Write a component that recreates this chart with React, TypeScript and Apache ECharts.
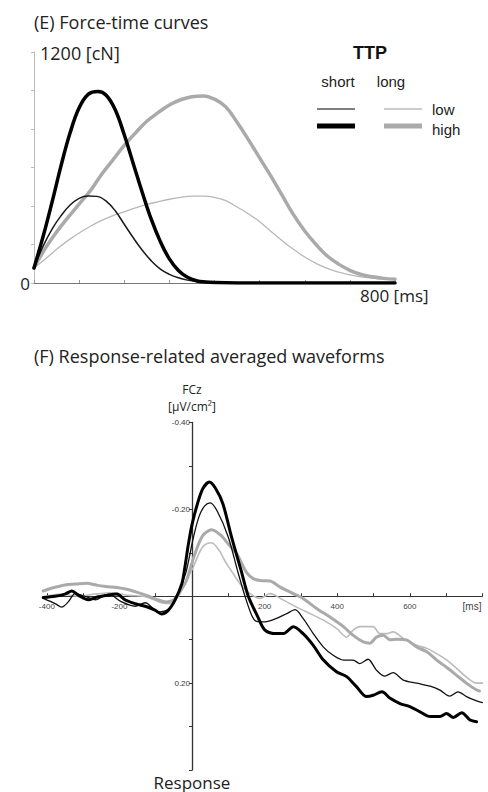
import React, { useEffect, useRef } from "react";
import * as echarts from "echarts";

// (E) Force-time curves: [time ms, force cN]
const forceShortLow: [number, number][] = [
  [0, 78], [20, 190], [40, 280], [60, 350], [80, 405], [100, 440], [120, 452], [140, 450],
  [160, 425], [180, 375], [200, 305], [220, 235], [240, 170], [260, 115], [280, 72], [300, 45],
  [320, 27], [340, 15], [360, 8], [400, 2], [450, 0], [800, 0],
];
const forceShortHigh: [number, number][] = [
  [0, 78], [20, 240], [40, 420], [60, 610], [80, 780], [100, 910], [120, 980], [142, 995],
  [160, 975], [180, 900], [200, 770], [220, 620], [240, 470], [260, 330], [280, 215], [300, 125],
  [320, 65], [340, 30], [360, 12], [380, 5], [400, 2], [450, 0], [800, 0],
];
const forceLongLow: [number, number][] = [
  [0, 78], [25, 125], [50, 175], [75, 220], [100, 260], [125, 295], [150, 325], [175, 350],
  [200, 370], [225, 390], [250, 408], [275, 422], [300, 435], [325, 445], [350, 451], [375, 451],
  [400, 445], [425, 428], [450, 395], [475, 360], [500, 318], [525, 268], [550, 220], [575, 175],
  [600, 135], [625, 102], [650, 76], [675, 56], [700, 42], [725, 32], [750, 25], [775, 21], [800, 19],
];
const forceLongHigh: [number, number][] = [
  [0, 78], [25, 180], [50, 265], [75, 340], [100, 410], [125, 480], [150, 565], [175, 640],
  [200, 715], [225, 780], [250, 840], [275, 885], [300, 925], [325, 952], [350, 968], [375, 972],
  [400, 955], [425, 915], [450, 835], [475, 745], [500, 650], [525, 555], [550, 455], [575, 355],
  [600, 270], [625, 200], [650, 140], [675, 98], [700, 66], [725, 44], [750, 32], [775, 24], [800, 20],
];

// (F) Response-related averaged waveforms: [time ms, µV/cm²]
const ercShortLow: [number, number][] = [
  [-410, 0.005], [-377, 0.017], [-359, 0.025], [-341, 0.013], [-322, -0.006], [-295, 0], [-267, 0.008],
  [-230, -0.005], [-194, 0.013], [-157, 0.023], [-129, 0.015], [-93, 0.036], [-65, 0.03], [-42, 0.002],
  [-24, -0.037], [-15, -0.06], [4, -0.136], [20, -0.185], [35, -0.208], [50, -0.215], [70, -0.195],
  [100, -0.136], [125, -0.06], [146, 0], [165, 0.045], [178, 0.058], [201, 0.059], [233, 0.051],
  [261, 0.04], [284, 0.031], [306, 0.051], [334, 0.086], [362, 0.117], [389, 0.136], [417, 0.147],
  [444, 0.147], [462, 0.155], [485, 0.145], [508, 0.17], [531, 0.184], [554, 0.176], [582, 0.193],
  [619, 0.2], [656, 0.207], [683, 0.216], [710, 0.23], [733, 0.22], [756, 0.231], [784, 0.241], [800, 0.245],
];
const ercShortHigh: [number, number][] = [
  [-410, 0.003], [-377, 0], [-350, -0.005], [-331, -0.012], [-313, -0.002], [-286, 0.008], [-263, 0.002],
  [-235, -0.002], [-207, -0.005], [-185, 0.008], [-157, 0.017], [-129, 0.023], [-102, 0.032], [-84, 0.041],
  [-65, 0.032], [-47, 0.009], [-28, -0.029], [-20, -0.065], [-10, -0.12], [0, -0.165], [15, -0.213],
  [30, -0.248], [48, -0.263], [65, -0.248], [85, -0.213], [109, -0.136], [135, -0.06], [155, 0],
  [180, 0.045], [201, 0.078], [233, 0.086], [252, 0.086], [279, 0.07], [306, 0.086], [334, 0.113],
  [362, 0.147], [398, 0.174], [426, 0.185], [453, 0.208], [481, 0.231], [499, 0.228], [523, 0.22],
  [546, 0.235], [573, 0.247], [600, 0.254], [628, 0.266], [656, 0.277], [683, 0.277], [701, 0.27],
  [720, 0.279], [743, 0.268], [766, 0.285], [784, 0.289],
];
const ercLongLow: [number, number][] = [
  [-410, 0.001], [-359, -0.005], [-313, 0], [-267, -0.005], [-221, -0.008], [-175, -0.002], [-129, 0.001],
  [-84, 0.015], [-56, 0.017], [-33, -0.006], [-15, -0.037], [4, -0.068], [20, -0.1], [35, -0.118],
  [54, -0.123], [75, -0.105], [95, -0.075], [115, -0.05], [132, -0.029], [160, -0.006], [188, 0.005],
  [215, -0.006], [252, 0.009], [288, 0.025], [325, 0.04], [362, 0.055], [398, 0.074], [426, 0.094],
  [444, 0.078], [462, 0.07], [499, 0.07], [517, 0.086], [536, 0.086], [554, 0.082], [582, 0.097],
  [619, 0.113], [647, 0.12], [674, 0.132], [702, 0.147], [729, 0.166], [756, 0.186], [784, 0.2], [800, 0.2],
];
const ercLongHigh: [number, number][] = [
  [-410, -0.012], [-380, -0.02], [-350, -0.026], [-320, -0.028], [-290, -0.03], [-260, -0.025],
  [-230, -0.022], [-207, -0.02], [-180, -0.016], [-155, -0.01], [-125, -0.002], [-95, 0.008],
  [-70, 0.013], [-50, 0.008], [-30, -0.015], [-15, -0.037], [8, -0.098], [30, -0.14], [54, -0.153],
  [80, -0.14], [100, -0.12], [123, -0.098], [150, -0.055], [170, -0.04], [190, -0.036], [215, -0.035],
  [243, -0.021], [279, -0.006], [306, 0.005], [343, 0.028], [380, 0.048], [417, 0.07], [444, 0.09],
  [472, 0.105], [490, 0.108], [508, 0.094], [527, 0.09], [545, 0.1], [564, 0.099], [592, 0.101],
  [619, 0.117], [647, 0.128], [674, 0.147], [702, 0.164], [729, 0.182], [756, 0.2], [784, 0.216], [792, 0.218],
];

const ercYLabels = [-0.4, -0.2, 0.2];
const ercXLabels = [-400, -200, 200, 400, 600];
const ercXTicks = [-400, -300, -200, -100, 0, 100, 200, 300, 400, 500, 600, 700, 800];

const HUM = '"Open Sans", Lato, sans-serif';
const SANS = '"Liberation Sans", Arial, sans-serif';

// bottom panel geometry
const G2_LEFT = 43.2;
const G2_TOP = 422.5;
const G2_W = 439.2;
const G2_H = 347.5;
const X_MIN = -410;
const X_MAX = 800;
const Y_MIN = -0.4;
const Y_MAX = 0.4;

export default function App() {
  const ref = useRef<HTMLDivElement>(null);
  useEffect(() => {
    if (!ref.current) return;
    const chart = echarts.init(ref.current, undefined, { renderer: "svg" });
    const line = (data: [number, number][], idx: number, color: string, width: number, smooth: number) => ({
      type: "line",
      xAxisIndex: idx,
      yAxisIndex: idx,
      data,
      showSymbol: false,
      smooth,
      silent: true,
      lineStyle: { color, width, cap: "round", join: "round" },
      z: 3,
    });
    const txt = (text: string, x: number, y: number, font: string, align = "left", fill = "#222") => ({
      type: "text",
      x,
      y,
      silent: true,
      style: { text, font, fill, align, verticalAlign: "middle" },
    });
    const seg = (x1: number, x2: number, y: number, stroke: string, lineWidth: number) => ({
      type: "line",
      silent: true,
      shape: { x1, y1: y, x2, y2: y },
      style: { stroke, lineWidth },
    });
    // offsets that move the bottom panel axes onto the zero lines
    const xZeroPx = G2_LEFT + ((0 - X_MIN) / (X_MAX - X_MIN)) * G2_W;
    const yZeroPx = G2_TOP + ((0 - Y_MIN) / (Y_MAX - Y_MIN)) * G2_H;
    chart.setOption({
      animation: false,
      backgroundColor: "#fff",
      grid: [
        { left: 34, top: 52, width: 361, height: 231 },
        { left: G2_LEFT, top: G2_TOP, width: G2_W, height: G2_H },
      ],
      xAxis: [
        {
          gridIndex: 0, type: "value", min: 0, max: 800, interval: 100,
          axisLine: { lineStyle: { color: "#777", width: 1 } },
          axisTick: { show: true, inside: true, length: 3, lineStyle: { color: "#999" } },
          axisLabel: { show: false }, splitLine: { show: false },
        },
        {
          gridIndex: 1, type: "value", min: X_MIN, max: X_MAX,
          position: "bottom",
          offset: -(G2_TOP + G2_H - yZeroPx),
          axisLine: { onZero: false, lineStyle: { color: "#333", width: 1 } },
          axisTick: {
            show: true, inside: true, length: 3, customValues: ercXTicks,
            lineStyle: { color: "#333" },
          },
          axisLabel: {
            show: true, fontSize: 8, fontFamily: SANS, color: "#444", margin: 6,
            customValues: ercXLabels,
            formatter: (v: number) => String(v),
          },
          splitLine: { show: false },
        },
      ],
      yAxis: [
        {
          gridIndex: 0, type: "value", min: 0, max: 1200, interval: 200,
          axisLine: { show: true, lineStyle: { color: "#bbb", width: 1 } },
          axisTick: { show: true, length: 3, lineStyle: { color: "#bbb" } },
          axisLabel: { show: false }, splitLine: { show: false },
        },
        {
          gridIndex: 1, type: "value", min: Y_MIN, max: Y_MAX, interval: 0.1, inverse: true,
          position: "left",
          offset: -(xZeroPx - G2_LEFT),
          axisLine: { show: true, onZero: false, lineStyle: { color: "#333", width: 1.3 } },
          axisTick: { show: true, length: 3, lineStyle: { color: "#333" } },
          axisLabel: {
            show: true, fontSize: 8, fontFamily: SANS, color: "#333", margin: 2,
            formatter: (v: number) => (ercYLabels.some((l) => Math.abs(l - v) < 1e-6) ? v.toFixed(2) : ""),
          },
          splitLine: { show: false },
        },
      ],
      series: [
        line(forceLongLow, 0, "#b8b8b8", 1.3, 0.4),
        line(forceLongHigh, 0, "#aaaaaa", 3.5, 0.4),
        line(forceShortLow, 0, "#1a1a1a", 1.5, 0.4),
        line(forceShortHigh, 0, "#000000", 3.5, 0.4),
        line(ercLongLow, 1, "#bbbbbb", 1.6, 0.3),
        line(ercLongHigh, 1, "#aaaaaa", 3, 0.3),
        line(ercShortLow, 1, "#111111", 1.3, 0.3),
        line(ercShortHigh, 1, "#000000", 3, 0.3),
      ],
      graphic: [
        txt("(E) Force-time curves", 34, 22, `18px ${HUM}`),
        txt("1200 [cN]", 40, 53, `18px ${HUM}`),
        txt("0", 25, 283, `17px ${HUM}`, "center"),
        txt("800 [ms]", 360, 295, `17px ${HUM}`),
        txt("TTP", 370, 53, `bold 18px ${SANS}`, "center", "#111"),
        txt("short", 338, 81, `15px ${SANS}`, "center"),
        txt("long", 391, 81, `15px ${SANS}`, "center"),
        seg(317, 355, 109, "#555", 1.5),
        seg(317, 355, 126, "#000", 5),
        seg(384, 422, 109, "#bbb", 1.5),
        seg(384, 422, 126, "#aaa", 5),
        txt("low", 432, 109, `15px ${SANS}`),
        txt("high", 432, 129, `15px ${SANS}`),
        txt("(F) Response-related averaged waveforms", 34, 356, `18px ${HUM}`),
        txt("FCz", 192, 389, `12px ${HUM}`, "center"),
        txt("[\u03bcV/cm\u00b2]", 192, 406, `12px ${HUM}`, "center"),
        txt("[ms]", 472, 606, `10px ${SANS}`, "center", "#444"),
        txt("Response", 192, 782, `17px ${HUM}`, "center"),
      ],
    });
    return () => chart.dispose();
  }, []);
  return (
    <div
      ref={ref}
      style={{ position: "fixed", left: 0, top: 0, width: 488, height: 792, background: "#fff" }}
    />
  );
}
